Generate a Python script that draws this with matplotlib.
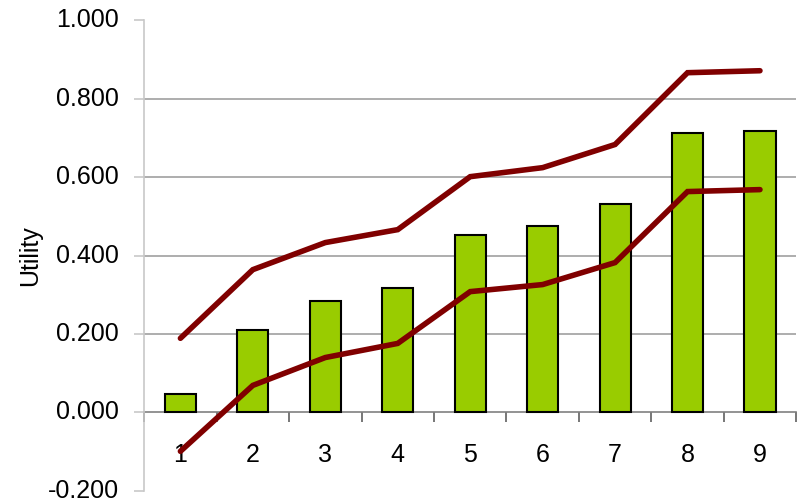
import numpy as np
import matplotlib
matplotlib.use('Agg')
import matplotlib.pyplot as plt
from matplotlib.ticker import FixedLocator, FuncFormatter

plt.rcParams['font.family'] = ['Liberation Sans', 'DejaVu Sans']

categories = [1, 2, 3, 4, 5, 6, 7, 8, 9]
utility = [0.046, 0.211, 0.285, 0.318, 0.453, 0.474, 0.532, 0.713, 0.718]
upper = [0.189, 0.364, 0.433, 0.466, 0.601, 0.624, 0.683, 0.866, 0.871]
lower = [-0.099, 0.069, 0.140, 0.176, 0.308, 0.326, 0.382, 0.563, 0.568]

fig = plt.figure(figsize=(8.01, 5.03), dpi=100)
ax = fig.add_axes([0.180, 0.024, 0.814, 0.936])

x = np.array(categories)
ax.bar(x, utility, width=0.43, color='#99cc00', edgecolor='black',
       linewidth=1.5, zorder=3)
for s in (upper, lower):
    ax.plot(x, s, color='#800000', linewidth=4.0, solid_capstyle='round',
            solid_joinstyle='miter', zorder=4)

ax.set_xlim(0.5, 9.5)
ax.set_ylim(-0.2, 1.0)

# gridlines
for g in [0.2, 0.4, 0.6, 0.8]:
    ax.axhline(g, color='#a0a0a0', linewidth=1.2, zorder=1)

for sp in ['top', 'right']:
    ax.spines[sp].set_visible(False)
ax.spines['left'].set_color('#c8c8c8')
ax.spines['left'].set_linewidth(1.2)
ax.spines['bottom'].set_position(('data', 0))
ax.spines['bottom'].set_color('#808080')
ax.spines['bottom'].set_linewidth(1.2)
ax.spines['bottom'].set_zorder(2)

ax.set_yticks(np.arange(-0.2, 1.01, 0.2))
ax.yaxis.set_major_formatter(FuncFormatter(lambda v, p: '%.3f' % v))
ax.tick_params(axis='y', length=7, width=1.2, color='#c8c8c8', pad=11,
               labelsize=18)
for lbl in ax.get_yticklabels():
    lbl.set_verticalalignment('center')

ax.xaxis.set_major_locator(FixedLocator(np.arange(0.5, 9.6, 1.0)))
ax.xaxis.set_major_formatter(FuncFormatter(lambda v, p: ''))
ax.xaxis.set_minor_locator(FixedLocator(x))
ax.xaxis.set_minor_formatter(FuncFormatter(lambda v, p: '%d' % v))
ax.tick_params(axis='x', which='major', length=7, width=1.2, color='#606060')
ax.tick_params(axis='x', which='minor', length=0, pad=22, labelsize=18)

ax.set_ylabel('Utility', fontsize=18, labelpad=4)

fig.savefig('out.png', dpi=100)
